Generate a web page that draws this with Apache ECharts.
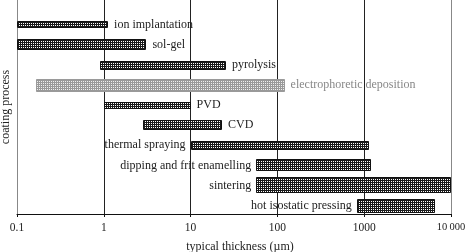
<!DOCTYPE html>
<html><head><meta charset="utf-8">
<script src="https://cdn.jsdelivr.net/npm/echarts@6/dist/echarts.min.js"></script>
<style>html,body{margin:0;padding:0;background:#fff}#c{width:465px;height:252px}</style>
</head><body><div id="c"></div>
<script>
// ---- data ----
const categories = ['ion implantation','sol-gel','pyrolysis','electrophoretic deposition','PVD','CVD','thermal spraying','dipping and frit enamelling','sintering','hot isostatic pressing'];
const minThickness = [0.1, 0.1, 0.9, 0.165, 1, 2.8, 10, 57, 57, 820];
const maxThickness = [1.12, 3.1, 25.5, 121, 10, 23, 1130, 1200, 10000, 6500];
const tickValues = [0.1, 1, 10, 100, 1000, 10000];
const tickLabels = ['0.1', '1', '10', '100', '1000', '10\u2009000'];
const xAxisTitle = 'typical thickness (\u00b5m)';
const yAxisTitle = 'coating process';

// ---- styles ----
const barThickness = [7, 11, 9, 13, 7, 10, 9, 12, 16, 14];
const labelSide = ['right','right','right','right','right','right','left','left','left','left'];
const barTone = ['dark','dark','dark','light','dark','dark','dark','dark','dark','dark'];
const FONT = '"Liberation Serif", "Times New Roman", serif';

function makePattern(line, hole) {
  const c = document.createElement('canvas');
  c.width = 2; c.height = 2;
  const g = c.getContext('2d');
  g.fillStyle = line; g.fillRect(0, 0, 2, 2);
  g.fillStyle = hole; g.fillRect(1, 1, 1, 1);
  return { image: c, repeat: 'repeat' };
}
const patDark = makePattern('#1a1a1a', '#fff');
const patLight = makePattern('#999', '#eee');

const seriesData = categories.map((c, i) => [i, minThickness[i], maxThickness[i]]);

const chart = echarts.init(document.getElementById('c'), null, { renderer: 'canvas' });
chart.setOption({
  animation: false,
  backgroundColor: '#fff',
  grid: { left: 17, right: 14, top: 0, bottom: 38, containLabel: false, outerBoundsMode: 'none' },
  xAxis: {
    type: 'log', logBase: 10, min: 0.1, max: 10000, position: 'bottom',
    name: xAxisTitle, nameLocation: 'middle', nameGap: 27,
    nameTextStyle: { fontFamily: FONT, fontSize: 12, color: '#222', padding: [0, 0, 0, 12] },
    axisLine: { show: true, onZero: false, lineStyle: { color: '#111', width: 1 } },
    axisTick: { show: true, length: 3, lineStyle: { color: '#111' } },
    axisLabel: {
      fontFamily: FONT, fontSize: 11.5, color: '#222', margin: 8,
      formatter: v => {
        let best = 0, bd = Infinity;
        tickValues.forEach((t, k) => { const d = Math.abs(Math.log10(t) - Math.log10(v)); if (d < bd) { bd = d; best = k; } });
        return best === tickValues.length - 1 ? '{n|' + tickLabels[best] + '}' : tickLabels[best];
      },
      rich: { n: { fontFamily: FONT, fontSize: 10.5, color: '#222', padding: [0, 0, 0, 0] } }
    },
    splitLine: { show: true, showMinLine: false, showMaxLine: false, lineStyle: { color: '#222', width: 1 } }
  },
  yAxis: [{
    type: 'value', min: -1.24, max: 9.42, inverse: true,
    name: yAxisTitle, nameLocation: 'middle', nameGap: 5, nameRotate: 90,
    nameTextStyle: { fontFamily: FONT, fontSize: 12, color: '#222' },
    axisLine: { show: true, onZero: false, lineStyle: { color: '#888', width: 1 } },
    axisTick: { show: false }, axisLabel: { show: false }, splitLine: { show: false }
  }, {
    type: 'value', min: -1.24, max: 9.42, inverse: true, position: 'right',
    axisLine: { show: true, onZero: false, lineStyle: { color: '#888', width: 1 } },
    axisTick: { show: false }, axisLabel: { show: false }, splitLine: { show: false }
  }],
  series: [{
    type: 'custom',
    encode: { x: [1, 2], y: 0 },
    data: seriesData,
    clip: false,
    renderItem: function (params, api) {
      const i = api.value(0);
      const p0 = api.coord([api.value(1), i]);
      const p1 = api.coord([api.value(2), i]);
      const h = barThickness[i];
      const light = barTone[i] === 'light';
      const right = labelSide[i] === 'right';
      const x0 = Math.round(p0[0]) + 0.5, x1 = Math.round(p1[0]) - 0.5;
      const y0 = Math.round(p0[1] - h / 2) + 0.5;
      return {
        type: 'group',
        children: [{
          type: 'rect',
          shape: { x: x0, y: y0, width: x1 - x0, height: h - 1 },
          style: { fill: light ? patLight : patDark, stroke: light ? '#9a9a9a' : '#111', lineWidth: 1 }
        }, {
          type: 'text',
          x: right ? p1[0] + 6 : p0[0] - 5,
          y: p0[1],
          style: {
            text: categories[i],
            align: right ? 'left' : 'right',
            verticalAlign: 'middle',
            font: '12px ' + FONT,
            fill: light ? '#888' : '#222'
          }
        }]
      };
    }
  }]
});
</script>
</body></html>
